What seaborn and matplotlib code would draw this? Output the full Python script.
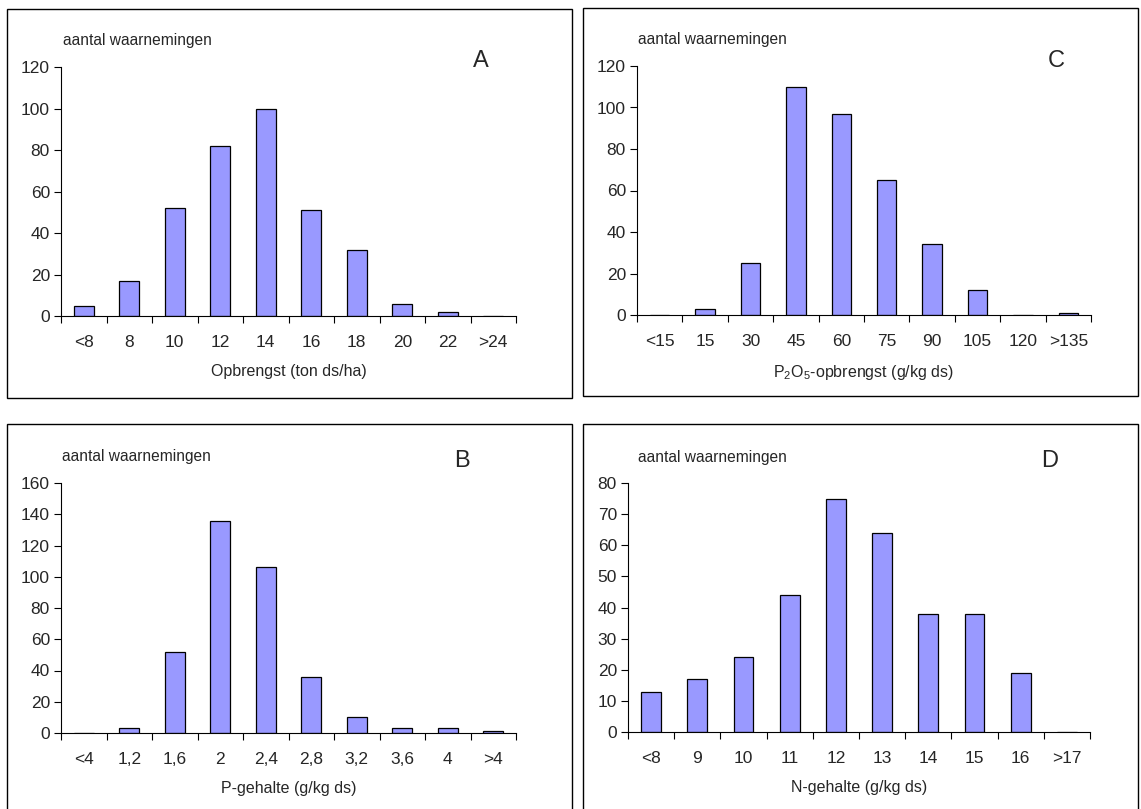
import numpy as np
import matplotlib
matplotlib.use("Agg")
import matplotlib.pyplot as plt
from matplotlib.patches import Rectangle
import seaborn as sns

# data
cats_a = ['<8', '8', '10', '12', '14', '16', '18', '20', '22', '>24']
vals_a = [5, 17, 52, 82, 100, 51, 32, 6, 2, 0]

cats_c = ['<15', '15', '30', '45', '60', '75', '90', '105', '120', '>135']
vals_c = [0, 3, 25, 110, 97, 65, 34, 12, 0, 1]

cats_b = ['<4', '1,2', '1,6', '2', '2,4', '2,8', '3,2', '3,6', '4', '>4']
vals_b = [0, 3, 52, 136, 106, 36, 10, 3, 3, 1]

cats_d = ['<8', '9', '10', '11', '12', '13', '14', '15', '16', '>17']
vals_d = [13, 17, 24, 44, 75, 64, 38, 38, 19, 0]

sns.set_theme(style="white")
plt.rcParams['font.family'] = ['Liberation Sans', 'DejaVu Sans']
plt.rcParams['mathtext.fontset'] = 'custom'
plt.rcParams['mathtext.rm'] = 'Liberation Sans'

W, H = 1141, 809
fig = plt.figure(figsize=(W / 100, H / 100), dpi=100)
fig.patch.set_facecolor('white')


def box(x0, y0, x1, y1):
    # panel frame in pixel coordinates (top-left origin)
    fig.patches.append(Rectangle((x0 / W, 1 - y1 / H), (x1 - x0) / W, (y1 - y0) / H,
                                 transform=fig.transFigure, fill=False,
                                 edgecolor='black', linewidth=1.0))


box(7, 9, 572, 398)
box(583, 8, 1138, 396)
box(7, 424, 572, 812)
box(583, 424, 1138, 812)


def panel(rect, cats, vals, ymax, ystep, xlabel, letter, ylab_pos, letter_pos):
    ax = fig.add_axes(rect)
    sns.barplot(x=cats, y=vals, color='#9999FF', saturation=1, width=0.43,
                edgecolor='black', linewidth=0.9, ax=ax)
    ax.set_xlim(-0.5, len(cats) - 0.5)
    ax.set_ylim(0, ymax)
    ax.set_yticks(np.arange(0, ymax + 1, ystep))
    ax.set_xticks(np.arange(-0.5, len(cats), 1), minor=True)
    ax.tick_params(axis='x', which='major', length=0, pad=14, labelsize=12.5)
    ax.tick_params(axis='x', which='minor', length=5, width=0.8, color='black', direction='out', bottom=True)
    ax.tick_params(axis='y', length=5, width=0.8, color='black', direction='out', left=True, labelsize=12.5, pad=3)
    for s in ['top', 'right']:
        ax.spines[s].set_visible(False)
    for s in ['left', 'bottom']:
        ax.spines[s].set_color('black')
        ax.spines[s].set_linewidth(0.8)
    ax.set_xlabel(xlabel, fontsize=11.5, labelpad=10)
    ax.set_ylabel('')
    ax.text(ylab_pos[0], ylab_pos[1], 'aantal waarnemingen', transform=ax.transAxes,
            fontsize=11.2, ha='left', va='center')
    ax.text(letter_pos[0], letter_pos[1], letter, transform=ax.transAxes,
            fontsize=17, ha='center', va='center')
    return ax


panel([61 / W, 1 - 316 / H, 455 / W, 249 / H], cats_a, vals_a, 120, 20,
      'Opbrengst (ton ds/ha)', 'A', (0.005, 1.108), (0.923, 1.024))
panel([637 / W, 1 - 315 / H, 454 / W, 249 / H], cats_c, vals_c, 120, 20,
      r'P$\mathregular{_2}$O$\mathregular{_5}$-opbrengst (g/kg ds)', 'C', (0.002, 1.108), (0.923, 1.02))
panel([61 / W, 1 - 733 / H, 455 / W, 250 / H], cats_b, vals_b, 160, 20,
      'P-gehalte (g/kg ds)', 'B', (0.003, 1.104), (0.881, 1.088))
panel([628 / W, 1 - 732 / H, 462 / W, 249 / H], cats_d, vals_d, 80, 10,
      'N-gehalte (g/kg ds)', 'D', (0.022, 1.104), (0.913, 1.088))

fig.savefig('out.png', dpi=100, facecolor='white')
